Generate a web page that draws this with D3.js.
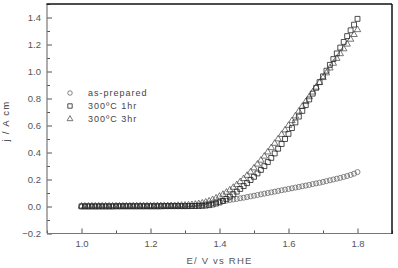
<!DOCTYPE html>
<html>
<head>
<meta charset="utf-8">
<script src="https://cdn.jsdelivr.net/npm/d3@7"></script>
<style>
  html, body { margin: 0; padding: 0; background: #fff; }
  svg { display: block; }
  text { font-family: "Liberation Sans", Arial, Helvetica, sans-serif; }
</style>
</head>
<body>
<svg id="chart" width="398" height="268"></svg>
<script>
// ---- data ----
const potential = [
  1.00,1.01,1.02,1.03,1.04,1.05,1.06,1.07,1.08,1.09,
  1.10,1.11,1.12,1.13,1.14,1.15,1.16,1.17,1.18,1.19,
  1.20,1.21,1.22,1.23,1.24,1.25,1.26,1.27,1.28,1.29,
  1.30,1.31,1.32,1.33,1.34,1.35,1.36,1.37,1.38,1.39,
  1.40,1.41,1.42,1.43,1.44,1.45,1.46,1.47,1.48,1.49,
  1.50,1.51,1.52,1.53,1.54,1.55,1.56,1.57,1.58,1.59,
  1.60,1.61,1.62,1.63,1.64,1.65,1.66,1.67,1.68,1.69,
  1.70,1.71,1.72,1.73,1.74,1.75,1.76,1.77,1.78,1.79,
  1.80
];
const asPrepared = [
  0.000,0.000,0.000,0.000,0.000,0.000,0.000,0.000,0.000,0.000,
  0.000,0.000,0.000,0.000,0.000,0.000,0.000,0.000,0.000,0.000,
  0.000,0.000,0.000,0.001,0.001,0.001,0.001,0.001,0.001,0.001,
  0.001,0.002,0.004,0.006,0.009,0.012,0.016,0.021,0.026,0.031,
  0.035,0.039,0.043,0.048,0.052,0.056,0.061,0.065,0.070,0.075,
  0.080,0.085,0.090,0.095,0.100,0.105,0.110,0.115,0.120,0.125,
  0.130,0.135,0.140,0.145,0.150,0.155,0.160,0.166,0.171,0.176,
  0.182,0.188,0.194,0.200,0.206,0.212,0.219,0.226,0.234,0.243,
  0.255
];
const c300_1hr = [
  0.001,0.001,0.001,0.001,0.001,0.001,0.001,0.001,0.001,0.001,
  0.002,0.002,0.002,0.002,0.002,0.002,0.002,0.002,0.002,0.002,
  0.002,0.002,0.002,0.002,0.003,0.003,0.003,0.003,0.003,0.003,
  0.003,0.003,0.004,0.004,0.004,0.005,0.007,0.010,0.015,0.022,
  0.030,0.041,0.056,0.073,0.091,0.110,0.130,0.151,0.173,0.196,
  0.220,0.245,0.271,0.299,0.329,0.360,0.393,0.428,0.463,0.500,
  0.538,0.581,0.623,0.666,0.708,0.751,0.793,0.836,0.879,0.921,
  0.964,1.006,1.049,1.092,1.134,1.177,1.219,1.262,1.305,1.347,
  1.390
];
const c300_3hr = [
  0.002,0.002,0.002,0.003,0.003,0.003,0.003,0.003,0.003,0.003,
  0.003,0.003,0.003,0.003,0.003,0.004,0.004,0.004,0.004,0.004,
  0.004,0.004,0.005,0.005,0.005,0.005,0.006,0.006,0.007,0.008,
  0.009,0.011,0.013,0.016,0.020,0.025,0.032,0.040,0.050,0.062,
  0.075,0.089,0.105,0.122,0.141,0.161,0.183,0.206,0.230,0.255,
  0.285,0.313,0.342,0.372,0.403,0.435,0.467,0.500,0.533,0.566,
  0.600,0.635,0.670,0.705,0.741,0.776,0.812,0.847,0.883,0.918,
  0.954,0.989,1.025,1.060,1.096,1.131,1.167,1.202,1.238,1.273,
  1.309
];
const seriesNames = ["as-prepared", "300\u00BAC 1hr", "300\u00BAC 3hr"];
const xTicks = [1.0, 1.2, 1.4, 1.6, 1.8];
const xMinorTicks = [0.9, 1.1, 1.3, 1.5, 1.7, 1.9];
const yTicks = [-0.2, 0.0, 0.2, 0.4, 0.6, 0.8, 1.0, 1.2, 1.4];
const yMinorTicks = [-0.1, 0.1, 0.3, 0.5, 0.7, 0.9, 1.1, 1.3, 1.5];

// ---- layout ----
const L = 47, R = 392, T = 4, B = 233.5;
const svg = d3.select("#chart");
const x = d3.scaleLinear().domain([0.9, 1.9]).range([L, R]);
const y = d3.scaleLinear().domain([-0.2, 1.5]).range([B, T]);

const tickColor = "#555", textColor = "#555";

// axes (inward ticks)
const xAxis = svg.append("g").attr("transform", `translate(0,${B})`)
  .call(d3.axisBottom(x).tickValues(xTicks).tickSize(-5).tickPadding(7).tickFormat(d3.format(".1f")));
const xAxisMinor = svg.append("g").attr("transform", `translate(0,${B})`)
  .call(d3.axisBottom(x).tickValues(xMinorTicks).tickSize(-3).tickFormat(""));
const yAxis = svg.append("g").attr("transform", `translate(${L},0)`)
  .call(d3.axisLeft(y).tickValues(yTicks).tickSize(-5).tickPadding(6).tickFormat(d3.format(".1f")));
const yAxisMinor = svg.append("g").attr("transform", `translate(${L},0)`)
  .call(d3.axisLeft(y).tickValues(yMinorTicks).tickSize(-3).tickFormat(""));

[xAxis, xAxisMinor, yAxis, yAxisMinor].forEach(g => {
  g.select(".domain").remove();
  g.selectAll(".tick line").attr("stroke", tickColor).attr("stroke-width", 1);
  g.selectAll(".tick text").attr("fill", textColor).style("font-size", "9.5px")
    .style("font-family", '"Liberation Sans", Arial, sans-serif');
});
xAxis.selectAll(".tick text").attr("dy", "0.71em");

// frame
svg.append("line").attr("x1", L).attr("x2", L).attr("y1", T).attr("y2", B)
  .attr("stroke", "#777").attr("stroke-width", 1.2);
svg.append("line").attr("x1", L).attr("x2", R).attr("y1", B).attr("y2", B)
  .attr("stroke", "#777").attr("stroke-width", 1.2);
svg.append("line").attr("x1", L - 0.6).attr("x2", R).attr("y1", T).attr("y2", T)
  .attr("stroke", "#111").attr("stroke-width", 1.5);
svg.append("line").attr("x1", R).attr("x2", R).attr("y1", T).attr("y2", B + 0.6)
  .attr("stroke", "#111").attr("stroke-width", 1.5);

// axis titles
svg.append("text").attr("x", (L + R) / 2).attr("y", 263.5)
  .attr("text-anchor", "middle").attr("fill", textColor)
  .style("font-size", "9.5px").style("letter-spacing", "1.2px")
  .text("E/ V vs RHE");
svg.append("text").attr("transform", `translate(8.5,${121}) rotate(-90)`)
  .attr("text-anchor", "middle").attr("fill", "#333")
  .style("font-size", "9.5px").style("letter-spacing", "1.3px")
  .text("j / A cm");

// series
const symbols = [d3.symbolCircle, d3.symbolSquare, d3.symbolTriangle];
const sizes = [20, 24, 18];
const strokes = ["#666", "#222", "#555"];
const data = [asPrepared, c300_1hr, c300_3hr];
const order = [0, 2, 1];
order.forEach(i => {
  const sym = d3.symbol().type(symbols[i]).size(sizes[i]);
  svg.append("g").selectAll("path")
    .data(potential.map((e, k) => [e, data[i][k]]))
    .join("path")
    .attr("transform", d => `translate(${x(d[0])},${y(d[1])})`)
    .attr("d", sym)
    .attr("fill", "none")
    .attr("stroke", strokes[i])
    .attr("stroke-width", 0.8);
});

// legend
const legY = [93, 106, 119];
seriesNames.forEach((name, i) => {
  svg.append("path")
    .attr("transform", `translate(70,${legY[i]})`)
    .attr("d", d3.symbol().type(symbols[i]).size(sizes[i] * 0.8)())
    .attr("fill", "none").attr("stroke", strokes[i]).attr("stroke-width", 0.8);
  svg.append("text").attr("x", 88).attr("y", legY[i] + 3.3)
    .attr("fill", "#444").style("font-size", "9px").style("letter-spacing", "1px")
    .text(name);
});
</script>
</body>
</html>
